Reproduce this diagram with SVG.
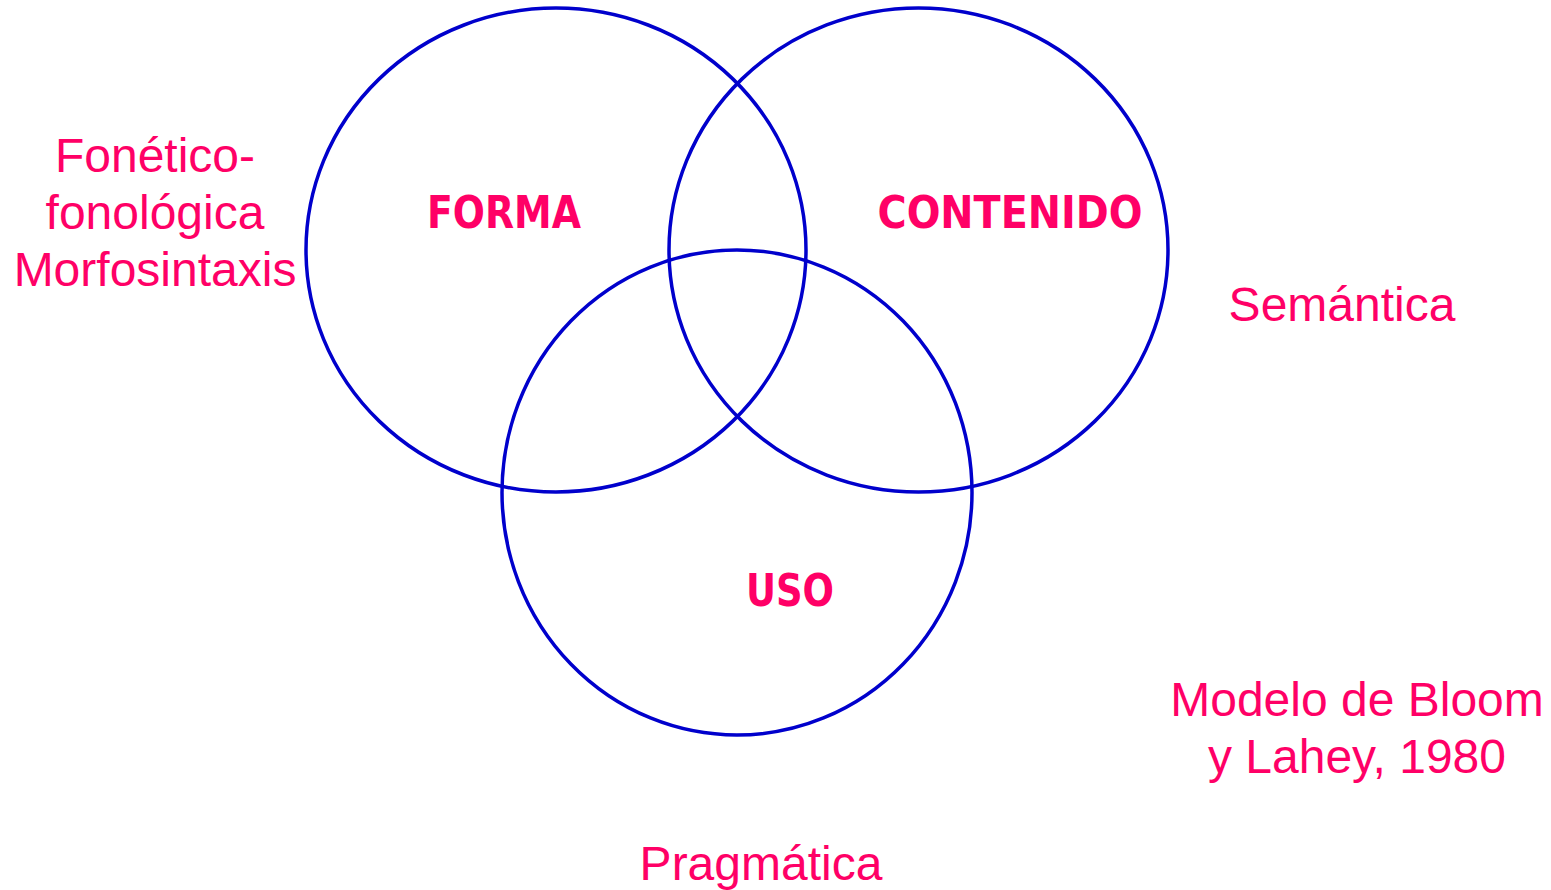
<svg xmlns="http://www.w3.org/2000/svg" width="1551" height="890" viewBox="0 0 1551 890">
<style>
.c{fill:none;stroke:#0000CC;stroke-width:3.5}
.b{font-family:"DejaVu Sans",sans-serif;font-weight:bold;font-stretch:condensed;font-size:44px;fill:#FF0066;text-anchor:middle}
.r{font-family:"Liberation Sans",Arial,sans-serif;font-size:48px;fill:#FF0066;text-anchor:middle}
</style>
<rect width="1551" height="890" fill="#fff"/>
<g id="forma">
<ellipse class="c" cx="556" cy="250" rx="250" ry="242"/>
<text class="b" x="504" y="228" textLength="154" lengthAdjust="spacingAndGlyphs">FORMA</text>
</g>
<g id="contenido">
<ellipse class="c" cx="918.5" cy="250" rx="249.5" ry="242"/>
<text class="b" x="1010" y="228" textLength="265" lengthAdjust="spacingAndGlyphs">CONTENIDO</text>
</g>
<g id="uso">
<ellipse class="c" cx="737" cy="492.5" rx="235" ry="242.5"/>
<text class="b" x="790" y="606" textLength="88" lengthAdjust="spacingAndGlyphs">USO</text>
</g>
<g id="connectors"></g>
<g id="labels">
<text class="r" x="155" y="172">Fonético-</text>
<text class="r" x="155" y="229">fonológica</text>
<text class="r" x="155" y="286">Morfosintaxis</text>
<text class="r" x="1342" y="321">Semántica</text>
<text class="r" x="1357" y="716">Modelo de Bloom</text>
<text class="r" x="1357" y="773">y Lahey, 1980</text>
<text class="r" x="761" y="880">Pragmática</text>
</g>
</svg>
